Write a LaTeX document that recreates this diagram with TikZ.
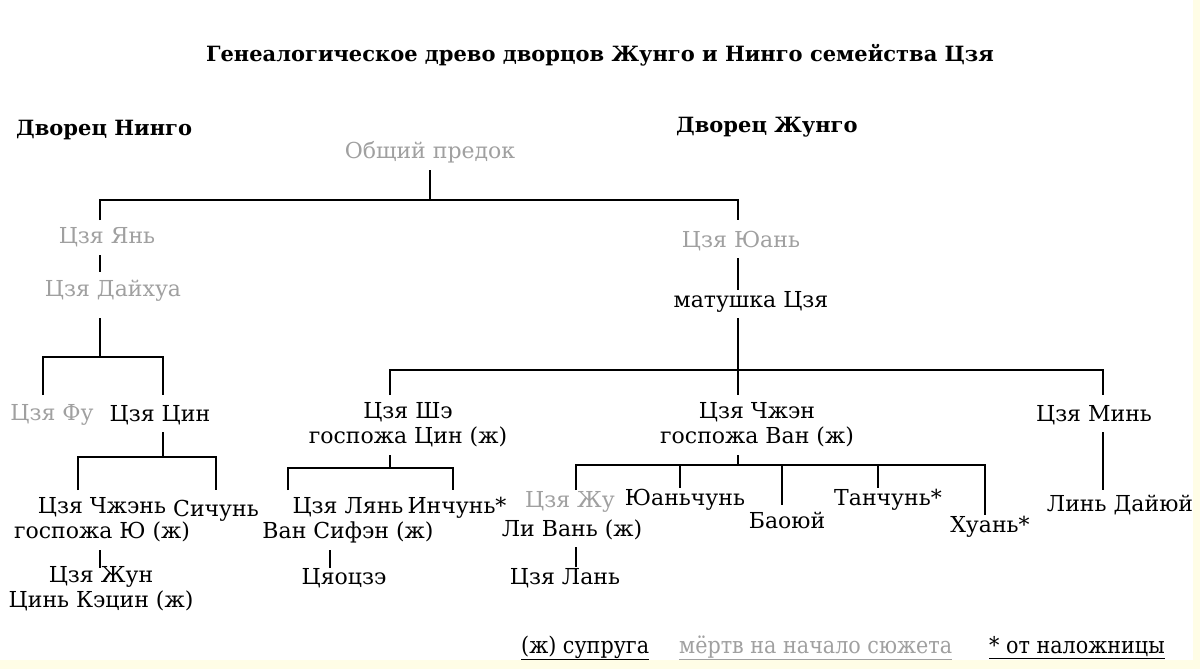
\documentclass[tikz,border=0pt]{standalone}
\usepackage{fontspec}
\setmainfont{DejaVu Serif}
\newfontfamily\condf{DejaVu Serif Condensed}
\begin{document}
\begin{tikzpicture}[x=1pt,y=-1pt,
  nm/.style={font=\fontsize{22}{25}\selectfont,inner sep=1pt,align=center},
  dd/.style={nm,text=deadgray},
  ln/.style={line width=1.1pt}]
\definecolor{deadgray}{HTML}{A0A0A0}
\definecolor{edge}{HTML}{FFFDE6}
\fill[white] (0,0) rectangle (1200,669);
\fill[edge] (0,660) rectangle (1200,669);
\fill[edge] (1193,0) rectangle (1200,669);
\useasboundingbox (0,0) rectangle (1200,669);
\node[nm,font=\fontsize{21}{22}\selectfont\bfseries] (title) at (600,55) {Генеалогическое древо дворцов Жунго и Нинго семейства Цзя};
\node[nm,anchor=west,font=\fontsize{21}{24}\selectfont\bfseries] (ning) at (15,130) {Дворец Нинго};
\node[nm,anchor=west,font=\fontsize{21}{24}\selectfont\bfseries] (rong) at (675,127) {Дворец Жунго};
\node[dd] (anc) at (430,152) {Общий предок};
\node[dd] (yan) at (107,237) {Цзя Янь};
\node[dd] (dai) at (113,291) {Цзя Дайхуа};
\node[dd] (fu) at (52,415) {Цзя Фу};
\node[nm] (jing) at (160,415) {Цзя Цин};
\node[nm] (zhen) at (102,520) {Цзя Чжэнь\\госпожа Ю (ж)};
\node[nm] (xi) at (216,511) {Сичунь};
\node[nm] (rongp) at (101,589) {Цзя Жун\\Цинь Кэцин (ж)};
\node[dd] (yuan) at (741,241) {Цзя Юань};
\node[nm] (mat) at (751,302) {матушка Цзя};
\node[nm] (she) at (408,425) {Цзя Шэ\\госпожа Цин (ж)};
\node[nm] (lian) at (348,520) {Цзя Лянь\\Ван Сифэн (ж)};
\node[nm] (ying) at (457,508) {Инчунь*};
\node[nm] (qiao) at (344,578) {Цяоцзэ};
\node[nm] (zheng) at (757,425) {Цзя Чжэн\\госпожа Ван (ж)};
\node[dd] (zhu) at (570,502) {Цзя Жу};
\node[nm] (li) at (572,530) {Ли Вань (ж)};
\node[nm] (yc) at (685,500) {Юаньчунь};
\node[nm] (bao) at (787,520) {Баоюй};
\node[nm] (tan) at (888,500) {Танчунь*};
\node[nm] (huan) at (990,527) {Хуань*};
\node[nm] (lan) at (565,578) {Цзя Лань};
\node[nm] (min) at (1094,415) {Цзя Минь};
\node[nm] (lin) at (1120,505) {Линь Дайюй};
\draw[ln] (430,170) -- (430,200);
\draw[ln] (100,220) -- (100,200) -- (738,200) -- (738,220);
\draw[ln] (100,255) -- (100,272);
\draw[ln] (100,318) -- (100,357);
\draw[ln] (43,395) -- (43,357) -- (163,357) -- (163,395);
\draw[ln] (163,432) -- (163,457);
\draw[ln] (78,490) -- (78,457) -- (216,457) -- (216,490);
\draw[ln] (100,550) -- (100,568);
\draw[ln] (738,258) -- (738,290);
\draw[ln] (738,318) -- (738,395);
\draw[ln] (390,395) -- (390,370) -- (1103,370) -- (1103,395);
\draw[ln] (390,455) -- (390,468);
\draw[ln] (288,490) -- (288,468) -- (453,468) -- (453,490);
\draw[ln] (330,550) -- (330,568);
\draw[ln] (738,455) -- (738,465);
\draw[ln] (576,490) -- (576,465) -- (985,465) -- (985,515);
\draw[ln] (680,465) -- (680,488);
\draw[ln] (782,465) -- (782,505);
\draw[ln] (878,465) -- (878,488);
\draw[ln] (576,547) -- (576,567);
\draw[ln] (1103,432) -- (1103,490);
\node[nm,anchor=west,font=\fontsize{23}{24}\condf] (l1) at (520,648) {\underline{(ж) супруга}};
\node[nm,anchor=west,font=\fontsize{23}{24}\condf,text=deadgray] (l2) at (678,648) {\underline{мёртв на начало сюжета}};
\node[nm,anchor=west,font=\fontsize{23}{24}\condf] (l3) at (988,648) {\underline{* от наложницы}};
\end{tikzpicture}
\end{document}
